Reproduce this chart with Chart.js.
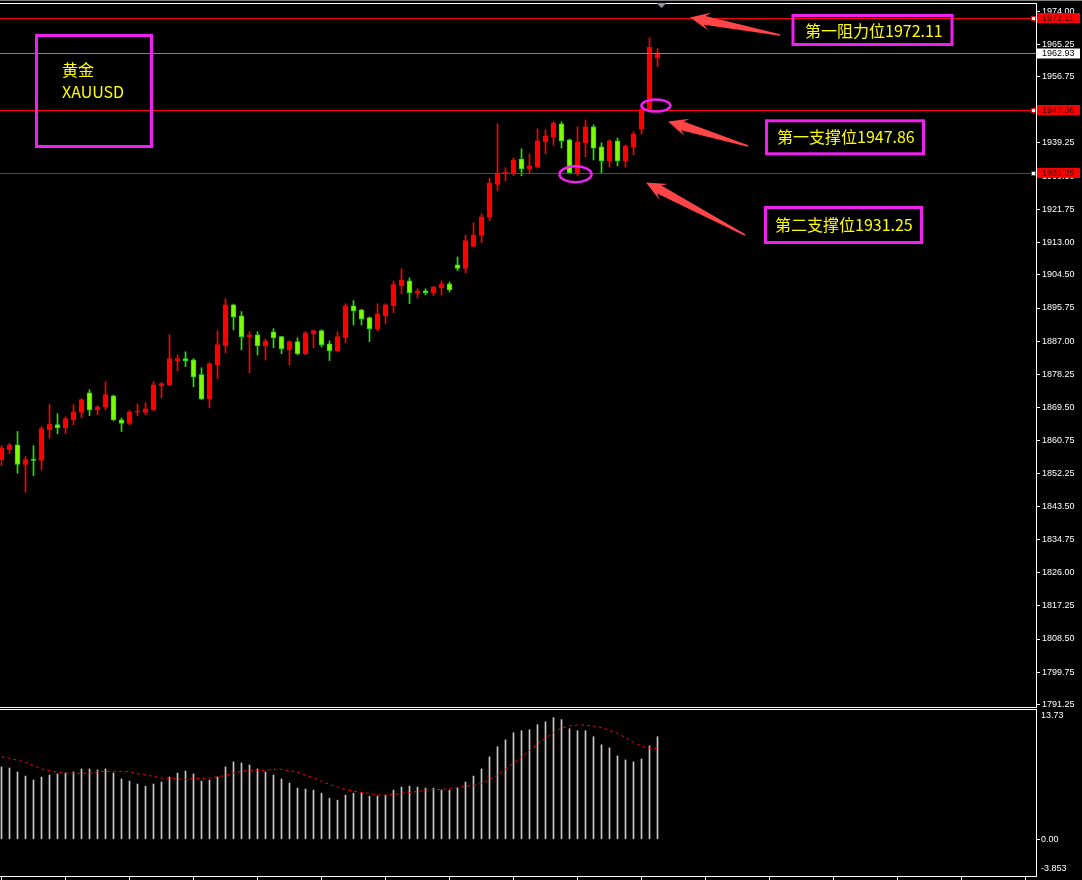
<!DOCTYPE html>
<html>
<head>
<meta charset="utf-8">
<title>XAUUSD</title>
<script src="https://cdn.jsdelivr.net/npm/chart.js@4.4.0/dist/chart.umd.min.js"></script>
<style>
    html, body { margin: 0; padding: 0; background: #000; }
    #wrap { position: relative; width: 1082px; height: 880px; overflow: hidden; background: #000; }
    #priceChart { position: absolute; left: 0; top: 0; }
    #macdChart { position: absolute; left: 0; top: 708px; }
</style>
</head>
<body>
<div id="wrap">
    <canvas id="priceChart" width="1082" height="712"></canvas>
    <canvas id="macdChart" width="1082" height="172"></canvas>
</div>
<script>
// Свечи (H1, XAUUSD), слева направо
const opens  = [1855.8, 1858.4, 1859.7, 1854.5, 1855.8, 1855.6, 1863.7, 1865.0, 1864.2, 1866.3,
                1868.2, 1873.4, 1868.9, 1869.7, 1872.6, 1866.3, 1865.3, 1868.3, 1868.2, 1868.9,
                1875.3, 1875.5, 1881.9, 1882.4, 1882.1, 1878.2, 1871.8, 1880.8, 1885.8, 1896.6,
                1893.7, 1888.2, 1888.7, 1885.8, 1889.5, 1888.2, 1884.7, 1886.9, 1883.7, 1889.0,
                1889.8, 1886.3, 1884.5, 1887.9, 1896.3, 1895.3, 1893.2, 1890.3, 1893.7, 1896.3,
                1901.6, 1902.9, 1899.8, 1900.3, 1899.8, 1901.1, 1902.1, 1907.1, 1906.2, 1912.0,
                1914.9, 1919.6, 1928.3, 1931.1, 1931.4, 1935.0, 1932.4, 1932.9, 1939.5, 1940.8,
                1944.3, 1940.1, 1931.4, 1939.3, 1943.5, 1938.2, 1934.5, 1939.8, 1934.5, 1938.2,
                1942.9, 1948.2, 1961.6];
const highs  = [1859.5, 1860.1, 1863.2, 1856.6, 1859.5, 1864.5, 1870.3, 1867.9, 1867.1, 1870.3,
                1871.8, 1874.2, 1870.0, 1876.3, 1872.8, 1866.8, 1868.7, 1870.5, 1870.8, 1876.3,
                1876.1, 1888.7, 1883.4, 1884.2, 1882.4, 1880.0, 1881.3, 1889.8, 1898.2, 1896.8,
                1894.8, 1889.5, 1889.5, 1887.6, 1890.3, 1888.3, 1887.1, 1887.9, 1889.5, 1890.0,
                1890.0, 1887.1, 1889.5, 1896.9, 1897.7, 1895.4, 1893.4, 1896.9, 1896.9, 1902.9,
                1906.1, 1903.7, 1900.8, 1900.8, 1901.4, 1902.9, 1902.6, 1909.2, 1915.0, 1918.2,
                1920.6, 1930.0, 1944.3, 1932.7, 1935.3, 1937.7, 1936.4, 1943.0, 1942.7, 1944.8,
                1944.8, 1940.3, 1943.5, 1945.3, 1944.0, 1939.3, 1940.1, 1940.6, 1938.7, 1942.2,
                1949.0, 1966.9, 1964.1];
const lows   = [1854.2, 1857.4, 1852.2, 1847.2, 1851.6, 1853.1, 1861.4, 1862.6, 1862.6, 1865.0,
                1866.8, 1867.4, 1867.6, 1868.9, 1866.0, 1863.2, 1865.0, 1867.4, 1867.6, 1868.7,
                1872.1, 1875.3, 1879.2, 1880.3, 1875.0, 1871.6, 1869.5, 1877.1, 1884.0, 1890.0,
                1884.7, 1878.7, 1883.4, 1882.1, 1885.3, 1883.7, 1880.8, 1883.4, 1883.4, 1885.3,
                1885.5, 1881.9, 1884.4, 1886.6, 1891.3, 1891.3, 1886.9, 1889.8, 1891.6, 1894.5,
                1899.5, 1896.9, 1898.4, 1899.2, 1899.0, 1899.2, 1900.0, 1905.6, 1905.0, 1911.8,
                1913.0, 1918.8, 1926.7, 1929.3, 1930.6, 1930.6, 1931.4, 1932.7, 1936.4, 1938.7,
                1937.9, 1931.1, 1930.6, 1935.6, 1934.8, 1931.4, 1932.9, 1933.2, 1932.9, 1936.1,
                1941.6, 1948.0, 1959.4];
const closes = [1858.8, 1859.7, 1854.5, 1855.8, 1855.6, 1864.0, 1865.1, 1864.2, 1866.6, 1868.4,
                1871.6, 1868.9, 1869.7, 1872.9, 1866.3, 1865.3, 1868.4, 1868.4, 1869.2, 1875.5,
                1875.8, 1882.4, 1882.4, 1881.9, 1877.6, 1871.8, 1881.1, 1886.1, 1896.6, 1893.4,
                1888.2, 1888.7, 1885.8, 1887.1, 1887.9, 1885.0, 1886.9, 1883.7, 1889.2, 1889.8,
                1886.1, 1884.5, 1888.2, 1896.3, 1895.0, 1892.9, 1890.3, 1894.2, 1896.6, 1901.9,
                1903.2, 1899.8, 1900.3, 1899.8, 1901.3, 1902.1, 1900.5, 1906.2, 1913.5, 1915.0,
                1919.8, 1928.7, 1931.4, 1931.6, 1934.8, 1932.4, 1933.2, 1939.8, 1941.1, 1944.5,
                1939.8, 1931.4, 1939.5, 1943.5, 1937.9, 1934.5, 1939.8, 1934.5, 1938.5, 1941.6,
                1948.1, 1964.5, 1962.93];

// MACD: гистограмма и сигнальная линия
const macdMain = [7.63, 7.52, 7.10, 6.67, 6.25, 6.57, 6.78, 6.89, 6.99, 7.10,
                  7.42, 7.42, 7.31, 7.42, 6.99, 6.36, 6.14, 5.83, 5.61, 5.83,
                  6.04, 6.57, 6.99, 7.20, 6.89, 6.14, 6.25, 6.57, 7.63, 8.16,
                  8.05, 7.84, 7.42, 7.10, 6.78, 6.36, 5.93, 5.40, 5.30, 5.19,
                  4.87, 4.34, 4.13, 4.66, 4.87, 4.87, 4.56, 4.56, 4.66, 5.19,
                  5.51, 5.61, 5.51, 5.40, 5.40, 5.19, 5.19, 5.40, 6.04, 6.67,
                  7.42, 8.69, 9.75, 10.49, 11.23, 11.44, 11.55, 12.08, 12.39, 12.82,
                  12.61, 11.65, 11.44, 11.44, 10.81, 9.96, 9.64, 8.79, 8.37, 8.16,
                  8.47, 9.85, 10.81];
const macdSignal = [8.69, 8.55, 8.33, 8.12, 7.77, 7.42, 7.24, 7.10, 6.99, 6.96,
                    6.96, 6.99, 7.10, 7.17, 7.17, 7.17, 7.10, 6.92, 6.78, 6.64,
                    6.46, 6.43, 6.36, 6.32, 6.43, 6.43, 6.46, 6.60, 6.74, 6.99,
                    7.17, 7.27, 7.27, 7.27, 7.38, 7.38, 7.24, 7.06, 6.74, 6.50,
                    6.11, 5.79, 5.51, 5.26, 5.08, 4.94, 4.84, 4.70, 4.66, 4.73,
                    4.87, 4.94, 5.05, 5.19, 5.26, 5.26, 5.37, 5.47, 5.58, 5.72,
                    5.90, 6.32, 6.78, 7.42, 8.05, 8.65, 9.36, 10.06, 10.66, 11.26,
                    11.72, 11.94, 12.04, 12.04, 11.94, 11.79, 11.48, 11.16, 10.73, 10.20,
                    9.82, 9.60, 9.60];

// Шкала цены
const priceTicks = [1974.00, 1965.25, 1956.75, 1948.00, 1939.25, 1930.50, 1921.75, 1913.00,
                    1904.50, 1895.75, 1887.00, 1878.25, 1869.50, 1860.75, 1852.25, 1843.50,
                    1834.75, 1826.00, 1817.25, 1808.50, 1799.75, 1791.25];
const PRICE_MIN = 1790.58;
const PRICE_MAX = 1975.88;
const MACD_MIN = -3.853;
const MACD_MAX = 13.73;

// Уровни
const levelPrices = [1972.11, 1947.86, 1931.25];
const levelTitles = ['第一阻力位', '第一支撑位', '第二支撑位'];
const lastPrice = 1962.93;
const symbolLines = ['黄金', 'XAUUSD'];

// Цвета
const UP_COLOR = '#ff0000';
const DOWN_FILL = '#7cfc00';
const DOWN_EDGE = '#1fe01f';
const MAGENTA = '#f020f0';
const YELLOW = '#ffff00';
const ARROW = '#ff4545';

const X_MIN = -1.5 / 8;
const X_MAX = X_MIN + 1036 / 8;
const AXIS_W = 46;
const AXIS_FONT = { family: 'Liberation Sans, Arial, sans-serif', size: 9 };
const CJK_FONT = '16px "Noto Sans CJK SC", "Noto Sans", sans-serif';

const idx = opens.map((_, i) => i);
const isUp = idx.map(i => closes[i] >= opens[i]);

// Рамки и подписи (пиксели страницы)
const noteBoxes = [
    { rect: [793, 15.5, 159, 29], tx: 805, ty: 31 },
    { rect: [766.5, 120.8, 157, 33], tx: 777, ty: 137 },
    { rect: [765.5, 207.5, 156, 35], tx: 775, ty: 225 }
];
const arrows = [
    [690, 17.5, 780, 35],
    [668, 121.5, 748, 146],
    [646, 182.5, 745, 235]
];
const ellipses = [
    { x: 81.8, p: 1949.1, rx: 14.5, ry: 6 },
    { x: 71.75, p: 1931.0, rx: 16, ry: 8 }
];

function drawArrow(ctx, tx, ty, ex, ey) {
    const dx = ex - tx, dy = ey - ty;
    const len = Math.hypot(dx, dy);
    const ux = dx / len, uy = dy / len;
    const nx = -uy, ny = ux;
    const hl = 20, hw = 9, sw = 4.5;
    const bx = tx + ux * hl, by = ty + uy * hl;
    const sx = tx + ux * (hl - 5), sy = ty + uy * (hl - 5);
    ctx.beginPath();
    ctx.moveTo(tx, ty);
    ctx.lineTo(bx + nx * hw, by + ny * hw);
    ctx.lineTo(sx + nx * sw, sy + ny * sw);
    ctx.lineTo(ex + nx * 0.8, ey + ny * 0.8);
    ctx.lineTo(ex - nx * 0.8, ey - ny * 0.8);
    ctx.lineTo(sx - nx * sw, sy - ny * sw);
    ctx.lineTo(bx - nx * hw, by - ny * hw);
    ctx.closePath();
    ctx.fill();
}

// Оверлей основного окна: рамки, уровни, метки, аннотации
const priceOverlay = {
    id: 'priceOverlay',
    afterDraw(chart) {
        const ctx = chart.ctx;
        const area = chart.chartArea;
        const ys = chart.scales.y;
        const xs = chart.scales.x;
        ctx.save();

        // рамка окна
        ctx.fillStyle = '#808080';
        ctx.fillRect(0, 0, 1082, 1);
        ctx.fillStyle = '#ffffff';
        ctx.fillRect(0, area.top - 1, area.right + 1, 1);
        ctx.fillRect(0, area.bottom, area.right + 1, 1);

        // маркер сдвига графика
        const mx = xs.getPixelForValue(82.5);
        ctx.fillStyle = '#8a94a0';
        ctx.beginPath();
        ctx.moveTo(mx - 5, 3);
        ctx.lineTo(mx + 5, 3);
        ctx.lineTo(mx, 8);
        ctx.closePath();
        ctx.fill();

        // линия текущей цены
        const ly = Math.round(ys.getPixelForValue(lastPrice)) + 0.5;
        ctx.strokeStyle = '#7d8792';
        ctx.lineWidth = 1;
        ctx.beginPath();
        ctx.moveTo(area.left, ly);
        ctx.lineTo(area.right, ly);
        ctx.stroke();
        ctx.fillStyle = '#ffffff';
        ctx.fillRect(area.right + 1, ly - 5, 43, 10);
        ctx.font = '9px "Liberation Sans", Arial, sans-serif';
        ctx.textBaseline = 'middle';
        ctx.textAlign = 'left';
        ctx.fillStyle = '#000000';
        ctx.fillText(lastPrice.toFixed(2), area.right + 6, ly + 0.5);

        // уровни поддержки/сопротивления
        levelPrices.forEach(p => {
            const y = Math.round(ys.getPixelForValue(p)) + 0.5;
            ctx.strokeStyle = '#ff0000';
            ctx.beginPath();
            ctx.moveTo(area.left, y);
            ctx.lineTo(area.right, y);
            ctx.stroke();
            ctx.fillStyle = '#ff0000';
            ctx.fillRect(area.right + 1, y - 5.5, 43, 10);
            ctx.fillStyle = '#3a0000';
            ctx.fillText(p.toFixed(2), area.right + 6, y);
            ctx.fillStyle = '#ff0000';
            ctx.fillRect(area.right - 5, y - 2.5, 5, 5);
            ctx.fillStyle = '#ffffff';
            ctx.fillRect(area.right - 4, y - 1.5, 3, 3);
        });

        // рамка с инструментом
        ctx.strokeStyle = MAGENTA;
        ctx.lineWidth = 3;
        ctx.strokeRect(36.5, 35.5, 115, 111);
        ctx.fillStyle = YELLOW;
        ctx.font = CJK_FONT;
        ctx.fillText(symbolLines[0], 62, 70);
        ctx.fillText(symbolLines[1], 62, 92);

        // подписи уровней
        noteBoxes.forEach((b, i) => {
            ctx.strokeStyle = MAGENTA;
            ctx.lineWidth = 3;
            ctx.strokeRect(b.rect[0], b.rect[1], b.rect[2], b.rect[3]);
            ctx.fillStyle = YELLOW;
            ctx.fillText(levelTitles[i] + levelPrices[i].toFixed(2), b.tx, b.ty);
        });

        // стрелки
        ctx.fillStyle = ARROW;
        arrows.forEach(a => drawArrow(ctx, a[0], a[1], a[2], a[3]));

        // эллипсы
        ctx.strokeStyle = MAGENTA;
        ctx.lineWidth = 2.5;
        ellipses.forEach(e => {
            ctx.beginPath();
            ctx.ellipse(xs.getPixelForValue(e.x), ys.getPixelForValue(e.p), e.rx, e.ry, 0, 0, Math.PI * 2);
            ctx.stroke();
        });

        ctx.restore();
    }
};

// Оверлей окна MACD
const macdOverlay = {
    id: 'macdOverlay',
    afterDraw(chart) {
        const ctx = chart.ctx;
        const area = chart.chartArea;
        const xs = chart.scales.x;
        ctx.save();
        ctx.fillStyle = '#ffffff';
        ctx.fillRect(0, area.top, area.right + 1, 1);
        ctx.fillRect(0, area.bottom, area.right + 1, 1);
        for (let v = 0; v <= X_MAX; v += 8) {
            const px = Math.floor(xs.getPixelForValue(v));
            ctx.fillRect(px, area.bottom + 1, 1, 4);
        }
        ctx.font = '9px "Liberation Sans", Arial, sans-serif';
        ctx.textBaseline = 'middle';
        ctx.textAlign = 'left';
        ctx.fillText(MACD_MAX.toFixed(2), area.right + 5, area.top + 7);
        ctx.fillText(MACD_MIN.toFixed(3), area.right + 5, area.bottom - 7);
        ctx.restore();
    }
};

const xScale = {
    type: 'linear',
    min: X_MIN,
    max: X_MAX,
    offset: false,
    display: false
};

function fitAxis(scale) {
    scale.width = AXIS_W;
    scale.paddingTop = 0;
    scale.paddingBottom = 0;
}

new Chart(document.getElementById('priceChart'), {
    type: 'bar',
    data: {
        datasets: [
            {
                label: 'bodies',
                data: idx.map(i => ({ x: i, y: [opens[i], closes[i]] })),
                backgroundColor: idx.map(i => isUp[i] ? UP_COLOR : DOWN_FILL),
                borderColor: idx.map(i => isUp[i] ? UP_COLOR : DOWN_EDGE),
                borderWidth: 1,
                borderSkipped: false,
                barThickness: 5,
                minBarLength: 1,
                grouped: false,
                order: 1
            },
            {
                label: 'wicks',
                data: idx.map(i => ({ x: i, y: [lows[i], highs[i]] })),
                backgroundColor: idx.map(i => isUp[i] ? UP_COLOR : '#22e600'),
                borderWidth: 0,
                barThickness: 1,
                grouped: false,
                order: 2
            }
        ]
    },
    options: {
        responsive: false,
        animation: false,
        devicePixelRatio: 1,
        events: [],
        layout: { padding: { top: 4, bottom: 5, left: 0, right: 0 } },
        plugins: { legend: { display: false }, tooltip: { enabled: false } },
        scales: {
            x: xScale,
            y: {
                position: 'right',
                min: PRICE_MIN,
                max: PRICE_MAX,
                beginAtZero: false,
                afterBuildTicks: s => { s.ticks = priceTicks.map(v => ({ value: v })); },
                afterFit: fitAxis,
                grid: { drawOnChartArea: false, drawTicks: true, tickLength: 4, color: '#ffffff' },
                border: { display: true, color: '#ffffff', width: 1 },
                ticks: {
                    color: '#ffffff',
                    font: AXIS_FONT,
                    padding: 2,
                    autoSkip: false,
                    callback: v => Number(v).toFixed(2)
                }
            }
        }
    },
    plugins: [priceOverlay]
});

new Chart(document.getElementById('macdChart'), {
    type: 'bar',
    data: {
        datasets: [
            {
                type: 'line',
                label: 'signal',
                data: idx.map(i => ({ x: i, y: macdSignal[i] })),
                borderColor: '#ff0000',
                borderWidth: 1,
                borderDash: [3, 3],
                pointRadius: 0,
                tension: 0,
                order: 1
            },
            {
                label: 'macd',
                data: idx.map(i => ({ x: i, y: macdMain[i] })),
                backgroundColor: '#c8c8c8',
                barThickness: 1,
                grouped: false,
                order: 2
            }
        ]
    },
    options: {
        responsive: false,
        animation: false,
        devicePixelRatio: 1,
        events: [],
        layout: { padding: { top: 1, bottom: 4, left: 0, right: 0 } },
        plugins: { legend: { display: false }, tooltip: { enabled: false } },
        scales: {
            x: xScale,
            y: {
                position: 'right',
                min: MACD_MIN,
                max: MACD_MAX,
                afterBuildTicks: s => { s.ticks = [{ value: 0 }]; },
                afterFit: fitAxis,
                grid: { drawOnChartArea: false, drawTicks: true, tickLength: 4, color: '#ffffff' },
                border: { display: true, color: '#ffffff', width: 1 },
                ticks: {
                    color: '#ffffff',
                    font: AXIS_FONT,
                    padding: 1,
                    callback: v => Number(v).toFixed(2)
                }
            }
        }
    },
    plugins: [macdOverlay]
});
</script>
</body>
</html>
